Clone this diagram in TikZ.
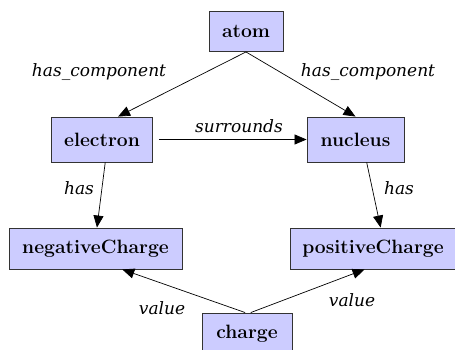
\documentclass[tikz,border=0pt]{standalone}
\usepackage{fontspec}
\newfontfamily\lblfont{DejaVu Serif}
\usetikzlibrary{arrows.meta}
\definecolor{boxfill}{RGB}{204,204,255}
\begin{document}
\begin{tikzpicture}[x=1pt,y=-1pt,
  box/.style={draw=black!80, fill=boxfill, line width=0.9pt, inner sep=0pt,
    font=\fontsize{19.3}{23}\selectfont\bfseries},
  rel/.style={draw=black, line width=0.7pt, -{Triangle[length=12pt,width=10pt]}},
  lbl/.style={font=\lblfont\fontsize{17}{20}\selectfont\itshape, inner sep=0pt}]
\clip (0,0) rectangle (455,350);
\fill[white] (0,0) rectangle (455,350);
\node[box, minimum width=74pt, minimum height=40pt] (atom) at (246,31.5) {atom};
\node[box, minimum width=101pt, minimum height=45pt] (electron) at (102,139.5) {electron};
\node[box, minimum width=97pt, minimum height=45pt] (nucleus) at (355.5,139.5) {nucleus};
\node[box, minimum width=173pt, minimum height=41pt] (neg) at (95.5,248.5) {negativeCharge};
\node[box, minimum width=166pt, minimum height=41pt] (pos) at (373,248.5) {positiveCharge};
\node[box, minimum width=90pt, minimum height=42pt] (charge) at (247,334) {charge};

\draw[rel] (atom.south) -- (electron.55);
\draw[rel] (atom.south) -- (nucleus.north);
\draw[rel, shorten <=6pt] (electron.east) -- (nucleus.west);
\draw[rel] (electron.-82) -- (neg.86);
\draw[rel] (nucleus.-64) -- (pos.70);
\draw[rel] (charge.95) -- (neg.-38);
\draw[rel] (charge.80) -- (pos.-112);

\node[lbl] (l1) at (99,72) {has\_component};
\node[lbl] (l2) at (368,72) {has\_component};
\node[lbl] (l3) at (239,126) {surrounds};
\node[lbl] (l4) at (79,188) {has};
\node[lbl] (l5) at (399,188) {has};
\node[lbl] (l6) at (162,308) {value};
\node[lbl] (l7) at (352,300) {value};
\end{tikzpicture}
\end{document}
